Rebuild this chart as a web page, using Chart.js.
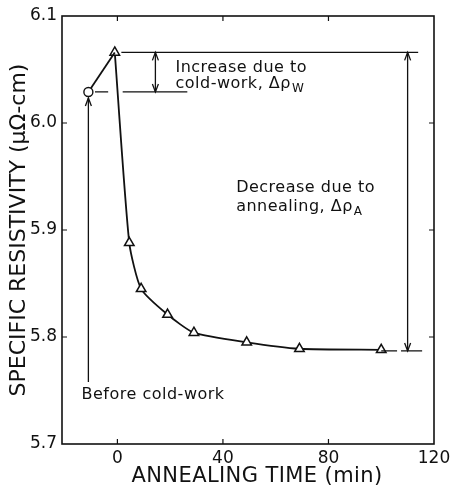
<!DOCTYPE html>
<html>
<head>
<meta charset="utf-8">
<script src="https://cdn.jsdelivr.net/npm/chart.js@4"></script>
<style>
  html, body { margin: 0; padding: 0; background: #fff; }
  #wrap { width: 451px; height: 491px; }
</style>
</head>
<body>
<div id="wrap"><canvas id="c" width="451" height="491"></canvas></div>
<script>
// resistivity before / after cold-work, then annealing decay
const beforeTime = [-11, -1];
const beforeRho = [6.029, 6.066];
const annealTime = [-1, 4.5, 9, 19, 29, 49, 69, 100];
const annealRho = [6.066, 5.888, 5.845, 5.821, 5.804, 5.795, 5.789, 5.788];
const xTicks = [0, 40, 80, 120];
const yTicks = [5.7, 5.8, 5.9, 6.0, 6.1];

const FONT = "'DejaVu Sans', sans-serif";
const INK = "#111";

function arrowHead(ctx, x, y, dir) {
  // dir: -1 points up, 1 points down
  ctx.beginPath();
  ctx.moveTo(x - 3, y - dir * 8);
  ctx.lineTo(x, y);
  ctx.lineTo(x + 3, y - dir * 8);
  ctx.stroke();
}

function label(ctx, text, x, y) {
  ctx.font = "16px " + FONT;
  ctx.letterSpacing = "0.5px";
  ctx.fillText(text, x, y);
  return ctx.measureText(text).width;
}

function subText(ctx, main, sub, x, y) {
  const w = label(ctx, main, x, y);
  ctx.font = "12px " + FONT;
  ctx.fillText(sub, x + w + 1, y + 5);
}

const framePlugin = {
  id: "frame",
  afterDraw(chart) {
    const { ctx, chartArea: a, scales: { x, y } } = chart;
    ctx.save();
    ctx.strokeStyle = INK;
    ctx.fillStyle = INK;
    ctx.lineWidth = 1.6;
    ctx.strokeRect(a.left, a.top, a.right - a.left, a.bottom - a.top);

    // inward ticks
    ctx.lineWidth = 1.2;
    ctx.beginPath();
    xTicks.slice(0, -1).forEach((v) => {
      const px = x.getPixelForValue(v);
      ctx.moveTo(px, a.bottom); ctx.lineTo(px, a.bottom - 5);
      ctx.moveTo(px, a.top); ctx.lineTo(px, a.top + 5);
    });
    yTicks.slice(1, -1).forEach((v) => {
      const py = y.getPixelForValue(v);
      ctx.moveTo(a.left, py); ctx.lineTo(a.left + 5, py);
      ctx.moveTo(a.right, py); ctx.lineTo(a.right - 5, py);
    });
    ctx.stroke();

    const X = (v) => x.getPixelForValue(v);
    const Y = (v) => y.getPixelForValue(v);
    const top = annealRho[0];
    const low = annealRho[annealRho.length - 1] - 0.001;
    const start = beforeRho[0];

    ctx.lineWidth = 1.3;
    ctx.beginPath();
    // level of the cold-worked state
    ctx.moveTo(X(1.5), Y(top)); ctx.lineTo(X(114), Y(top));
    // level before cold-work
    ctx.moveTo(X(-8.5), Y(start)); ctx.lineTo(X(-3.5), Y(start));
    ctx.moveTo(X(2), Y(start)); ctx.lineTo(X(26.5), Y(start));
    // level after annealing
    ctx.moveTo(X(100), Y(low)); ctx.lineTo(X(106), Y(low));
    ctx.moveTo(X(107.5), Y(low)); ctx.lineTo(X(115.5), Y(low));
    // increase arrow
    ctx.moveTo(X(14.4), Y(top)); ctx.lineTo(X(14.4), Y(start));
    // decrease arrow
    ctx.moveTo(X(110), Y(top)); ctx.lineTo(X(110), Y(low));
    // before cold-work arrow
    ctx.moveTo(X(-11), Y(5.758)); ctx.lineTo(X(-11), Y(start) + 6);
    ctx.stroke();
    arrowHead(ctx, X(14.4), Y(top), -1);
    arrowHead(ctx, X(14.4), Y(start), 1);
    arrowHead(ctx, X(110), Y(top), -1);
    arrowHead(ctx, X(110), Y(low), 1);
    arrowHead(ctx, X(-11), Y(start) + 6, -1);

    ctx.textBaseline = "middle";
    ctx.textAlign = "left";
    label(ctx, "Increase due to", X(22), Y(6.052));
    subText(ctx, "cold-work, \u0394\u03c1", "W", X(22), Y(6.037));
    label(ctx, "Decrease due to", X(45), Y(5.939));
    subText(ctx, "annealing, \u0394\u03c1", "A", X(45), Y(5.922));
    label(ctx, "Before cold-work", X(-13.6), Y(5.746));

    // x-axis title, centred a bit right of the plot centre as in the original
    ctx.textAlign = "center";
    ctx.font = "21px " + FONT;
    ctx.letterSpacing = "0.4px";
    ctx.fillText("ANNEALING TIME (min)", 257, 477);
    ctx.restore();
  },
};

new Chart(document.getElementById("c"), {
  type: "scatter",
  data: {
    datasets: [
      {
        label: "before",
        data: beforeTime.map((t, i) => ({ x: t, y: beforeRho[i] })),
        showLine: true,
        borderColor: INK,
        borderWidth: 1.8,
        pointStyle: "circle",
        pointRadius: [4.5, 0],
        pointBorderWidth: 1.4,
        pointBorderColor: INK,
        pointBackgroundColor: "#fff",
      },
      {
        label: "annealing",
        data: annealTime.map((t, i) => ({ x: t, y: annealRho[i] })),
        showLine: true,
        tension: 0.2,
        borderColor: INK,
        borderWidth: 1.8,
        pointStyle: "triangle",
        pointRadius: 5.5,
        pointBorderWidth: 1.5,
        pointBorderColor: INK,
        pointBackgroundColor: "#fff",
      },
    ],
  },
  options: {
    responsive: false,
    animation: false,
    layout: { padding: { top: 16, right: 17, left: 0, bottom: 0 } },
    plugins: { legend: { display: false }, tooltip: { enabled: false } },
    scales: {
      x: {
        type: "linear",
        min: -21,
        max: 120,
        afterBuildTicks: (s) => { s.ticks = xTicks.map((v) => ({ value: v })); },
        afterFit: (s) => { s.height = 47; s.paddingRight = 0; s.paddingLeft = 0; },
        grid: { display: false, drawTicks: false },
        border: { display: false },
        ticks: { color: INK, font: { family: FONT, size: 17 }, padding: 4, callback: (v) => String(v) },
        title: { display: false },
      },
      y: {
        min: 5.7,
        max: 6.1,
        afterBuildTicks: (s) => { s.ticks = yTicks.map((v) => ({ value: v })); },
        afterFit: (s) => { s.width = 62; },
        grid: { display: false, drawTicks: false },
        border: { display: false },
        ticks: { color: INK, font: { family: FONT, size: 17 }, padding: 5, callback: (v) => v.toFixed(1) },
        title: {
          display: true,
          text: "SPECIFIC RESISTIVITY (\u03bc\u03a9-cm)",
          color: INK,
          font: { family: FONT, size: 22 },
          padding: { top: 6, bottom: 0 },
        },
      },
    },
  },
  plugins: [framePlugin],
});
</script>
</body>
</html>
